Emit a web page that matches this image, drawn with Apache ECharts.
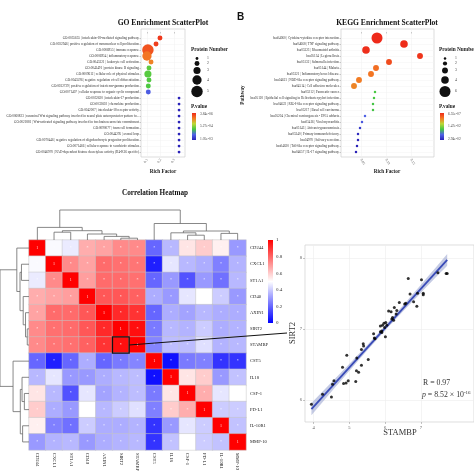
<!DOCTYPE html>
<html><head><meta charset="utf-8">
<script src="https://cdn.jsdelivr.net/npm/echarts@6/dist/echarts.min.js"></script>
<style>html,body{margin:0;padding:0;background:#fff}#c{width:474px;height:474px}</style>
</head><body><div id="c"></div>
<script>
const SERIF = '"Liberation Serif", "DejaVu Serif", serif';

// ---------- GO enrichment ----------
const goTerms = [
  'GO:0035655 | interleukin-18-mediated signaling pathway',
  'GO:0032946 | positive regulation of mononuclear cell proliferation',
  'GO:0006955 | immune response',
  'GO:0006954 | inflammatory response',
  'GO:0045321 | leukocyte cell activation',
  'GO:0043491 | protein kinase B signaling',
  'GO:0009612 | cellular role of physical stimulus',
  'GO:0045596 | negative regulation of cell differentiation',
  'GO:0032729 | positive regulation of interferon-gamma production',
  'GO:0071407 | cellular response to organic cyclic compound',
  'GO:0032620 | interleukin-17 production',
  'GO:0032602 | chemokine production',
  'GO:0042007 | interleukin-18 receptor activity',
  'GO:0060823 | canonical Wnt signaling pathway involved in neural plate anteroposterior pattern fo...',
  'GO:0021881 | Wnt-activated signaling pathway involved in forebrain neuron fate commitment',
  'GO:0090077 | foam cell formation',
  'GO:0044295 | axonal loop',
  'GO:0070446 | negative regulation of oligodendrocyte progenitor proliferation',
  'GO:0071466 | cellular response to xenobiotic stimulus',
  'GO:0046970 | NAD-dependent histone deacetylase activity (H4-K16 specific)'
];
const goRichFactor = [0.196, 0.167, 0.107, 0.100, 0.130, 0.115, 0.107, 0.115, 0.110, 0.110,
  0.337, 0.337, 0.337, 0.337, 0.337, 0.337, 0.337, 0.337, 0.337, 0.337];
const goCount = [2, 2, 5, 4, 2, 2, 3, 2, 2, 2, 1, 1, 1, 1, 1, 1, 1, 1, 1, 1];
const goPValue = [4.0e-5, 6.0e-5, 1.1e-4, 2.0e-4, 2.3e-4, 5.9e-4, 6.0e-4, 6.1e-4, 6.2e-4, 8.6e-4,
  1.05e-3, 1.05e-3, 1.05e-3, 1.05e-3, 1.05e-3, 1.05e-3, 1.05e-3, 1.05e-3, 1.05e-3, 1.05e-3];
const goTicks = [0.1, 0.2, 0.3];
const goPLabels = ['3.84e-06', '5.27e-04', '1.05e-03'];
const goPRange = [3.84e-6, 1.05e-3];
const goSizeLegend = [1, 2, 3, 4, 5];

// ---------- KEGG enrichment ----------
const keggTerms = [
  'hsa04060 | Cytokine-cytokine receptor interaction',
  'hsa04668 | TNF signaling pathway',
  'hsa05323 | Rheumatoid arthritis',
  'hsa05134 | Legionellosis',
  'hsa05132 | Salmonella infection',
  'hsa05144 | Malaria',
  'hsa05321 | Inflammatory bowel disease',
  'hsa04621 | NOD-like receptor signaling pathway',
  'hsa04514 | Cell adhesion molecules',
  'hsa05212 | Pancreatic cancer',
  'hsa05120 | Epithelial cell signaling in Helicobacter pylori infection',
  'hsa04622 | RIG-I-like receptor signaling pathway',
  'hsa05217 | Basal cell carcinoma',
  'hsa05204 | Chemical carcinogenesis - DNA adducts',
  'hsa05416 | Viral myocarditis',
  'hsa05143 | African trypanosomiasis',
  'hsa05340 | Primary immunodeficiency',
  'hsa04970 | Salivary secretion',
  'hsa04620 | Toll-like receptor signaling pathway',
  'hsa04657 | IL-17 signaling pathway'
];
const keggRichFactor = [0.082, 0.136, 0.060, 0.168, 0.106, 0.080, 0.070, 0.046, 0.036, 0.078,
  0.076, 0.074, 0.074, 0.058, 0.052, 0.048, 0.044, 0.044, 0.042, 0.040];
const keggCount = [6, 4, 4, 3, 3, 3, 3, 3, 3, 1, 1, 1, 1, 1, 1, 1, 1, 1, 1, 1];
const keggPValue = [1.0e-5, 2.0e-4, 4.0e-4, 8.0e-4, 2.5e-3, 5.0e-3, 5.5e-3, 6.0e-3, 6.5e-3, 1.75e-2,
  1.75e-2, 1.78e-2, 1.78e-2, 2.35e-2, 2.45e-2, 2.7e-2, 2.85e-2, 2.9e-2, 2.94e-2, 2.94e-2];
const keggTicks = [0.05, 0.10, 0.15];
const keggPLabels = ['6.55e-07', '1.47e-02', '2.94e-02'];
const keggPRange = [6.55e-7, 2.94e-2];
const keggSizeLegend = [1, 2, 3, 4, 6];

const pColors = ['#ee2a1a', '#f37a24', '#bcd836', '#45c742', '#4f62e6', '#2a22b8'];

// ---------- correlation heatmap ----------
const genes = ['CD244', 'CXCL1', 'ST1A1', 'CD40', 'AXIN1', 'SIRT2', 'STAMBP', 'CST5', 'IL18', 'CSF-1', 'PD-L1', 'IL-10R1', 'MMP-10'];
const corr = [
  [1.00, 0.49, 0.46, 0.66, 0.68, 0.73, 0.73, 0.20, 0.36, 0.55, 0.60, 0.53, 0.30],
  [0.49, 1.00, 0.73, 0.68, 0.79, 0.78, 0.77, 0.06, 0.45, 0.36, 0.34, 0.25, 0.35],
  [0.46, 0.73, 1.00, 0.69, 0.79, 0.79, 0.78, 0.20, 0.30, 0.16, 0.30, 0.22, 0.36],
  [0.66, 0.68, 0.69, 1.00, 0.83, 0.83, 0.81, 0.34, 0.30, 0.45, 0.50, 0.40, 0.30],
  [0.68, 0.79, 0.79, 0.83, 1.00, 0.92, 0.90, 0.20, 0.34, 0.32, 0.36, 0.34, 0.34],
  [0.73, 0.78, 0.79, 0.83, 0.92, 1.00, 0.97, 0.24, 0.36, 0.35, 0.40, 0.34, 0.35],
  [0.73, 0.77, 0.78, 0.81, 0.90, 0.97, 1.00, 0.26, 0.37, 0.37, 0.44, 0.35, 0.36],
  [0.20, 0.06, 0.20, 0.34, 0.20, 0.24, 0.26, 1.00, 0.03, 0.24, 0.25, 0.10, 0.10],
  [0.36, 0.45, 0.30, 0.30, 0.34, 0.36, 0.37, 0.03, 1.00, 0.55, 0.60, 0.30, 0.38],
  [0.55, 0.36, 0.16, 0.45, 0.32, 0.35, 0.37, 0.24, 0.55, 1.00, 0.66, 0.45, 0.50],
  [0.60, 0.34, 0.30, 0.50, 0.36, 0.40, 0.44, 0.25, 0.60, 0.66, 1.00, 0.40, 0.40],
  [0.53, 0.25, 0.22, 0.40, 0.34, 0.34, 0.35, 0.10, 0.30, 0.45, 0.40, 1.00, 0.38],
  [0.30, 0.35, 0.36, 0.30, 0.34, 0.35, 0.36, 0.10, 0.38, 0.50, 0.40, 0.38, 1.00]
];
const corrTicks = [1, 0.8, 0.6, 0.4, 0.2, 0];
// hclust-style merges: negative = leaf -(index+1), positive = earlier merge (1-based)
const dendroMerges = [
  [-6, -7, 0.06], [-5, 1, 0.12], [-4, 2, 0.20], [-2, -3, 0.26], [4, 3, 0.31], [-1, 5, 0.42],
  [-10, -11, 0.16], [-9, 7, 0.24], [-12, -13, 0.22], [8, 9, 0.30], [-8, 10, 0.55], [6, 11, 1.00]
];
const highlightCell = ['SIRT2', 'STAMBP'];

// ---------- SIRT2 vs STAMBP ----------
const stambp = [3.94, 4.25, 4.50, 4.53, 4.57, 4.81, 4.84, 4.91, 4.93, 4.97, 5.18, 5.20, 5.21, 5.26, 5.34, 5.34,
  5.39, 5.40, 5.53, 5.68, 5.70, 5.72, 5.87, 5.87, 5.91, 5.91, 5.93, 5.97, 5.99, 6.01, 6.02, 6.05, 6.10, 6.17,
  6.19, 6.21, 6.24, 6.26, 6.31, 6.33, 6.40, 6.55, 6.58, 6.65, 6.70, 6.80, 6.89, 6.91, 7.02, 7.07, 7.07, 7.48, 7.71, 7.74];
const sirt2 = [5.94, 6.08, 6.04, 6.22, 6.27, 6.46, 6.23, 6.24, 6.63, 6.27, 6.26, 6.41, 6.59, 6.39, 6.49, 6.71,
  6.79, 6.76, 6.57, 6.93, 6.87, 6.86, 6.96, 7.04, 6.97, 6.95, 7.05, 7.08, 7.02, 6.89, 7.09, 7.05, 7.25, 7.24,
  7.14, 7.16, 7.12, 7.30, 7.21, 7.26, 7.37, 7.35, 7.36, 7.71, 7.49, 7.38, 7.32, 7.50, 7.69, 7.50, 7.48, 7.79, 7.78, 7.78];
const scatterXTicks = [4, 5, 6, 7];
const scatterYTicks = [6, 7, 8];
const statR = '0.97', statP = '8.52', statPExp = '-16';

// ================= build =================
const goSize = n => 0.6 + 2.17 * n;
const keggSize = n => 0.8 + 1.7 * n;
const halfSteps = t => { const r = []; for (let v = t[0]; v <= t[t.length - 1] + 1 + 1e-9; v += 0.5) r.push(+v.toFixed(2)); return r; };
const idx20 = goTerms.map((_, i) => i + 1);

function buildDendro(merges) {
  const pos = [], ht = [];
  const P = k => k < 0 ? (-k - 1) + 0.5 : pos[k - 1];
  const H = k => k < 0 ? 0 : ht[k - 1];
  return merges.map(([a, b, h]) => {
    const pa = P(a), pb = P(b);
    const row = [pa, H(a), pb, H(b), h];
    pos.push((pa + pb) / 2); ht.push(h);
    return row;
  });
}
const dendroSegs = buildDendro(dendroMerges);

// regression + confidence band
const n = stambp.length;
const mx = stambp.reduce((a, b) => a + b, 0) / n, my = sirt2.reduce((a, b) => a + b, 0) / n;
let sxx = 0, sxy = 0;
for (let i = 0; i < n; i++) { sxx += (stambp[i] - mx) ** 2; sxy += (stambp[i] - mx) * (sirt2[i] - my); }
const slope = sxy / sxx, icpt = my - slope * mx;
let sse = 0; for (let i = 0; i < n; i++) sse += (sirt2[i] - icpt - slope * stambp[i]) ** 2;
const sres = Math.sqrt(sse / (n - 2)), tq = 2.007;
const xmin = Math.min(...stambp), xmax = Math.max(...stambp);
const band = [];
for (let k = 0; k <= 40; k++) {
  const x = xmin + (xmax - xmin) * k / 40, f = icpt + slope * x;
  const se = tq * sres * Math.sqrt(1 / n + (x - mx) ** 2 / sxx);
  band.push([x, f - se, f + se]);
}

const scatterAxisCommon = {
  axisLine: { show: false },
  axisTick: { show: true, length: 2, lineStyle: { color: '#888', width: 0.5 } },
  axisLabel: { fontSize: 4.5, color: '#555', fontFamily: SERIF, margin: 3 }
};

const chart = echarts.init(document.getElementById('c'));
const option = {
  animation: false,
  backgroundColor: '#fff',
  grid: [
    { left: 141, top: 29, width: 44, height: 128, show: true, borderColor: '#c8c8c8', borderWidth: 0.6, backgroundColor: '#fff' },
    { left: 341, top: 29, width: 93, height: 128, show: true, borderColor: '#c8c8c8', borderWidth: 0.6, backgroundColor: '#fff' },
    { left: 29, top: 240, width: 217, height: 210 },
    { left: 29, top: 210, width: 217, height: 30 },
    { left: -3, top: 240, width: 32, height: 210 },
    { left: 305, top: 245, width: 200, height: 177, show: true, borderColor: '#d0d0d0', borderWidth: 0.7, backgroundColor: '#fff' }
  ],
  xAxis: [
    { gridIndex: 0, type: 'value', min: 0.056, max: 0.381,
      axisLine: { show: false },
      axisTick: { show: true, length: 1.5, customValues: goTicks, lineStyle: { color: '#999', width: 0.5 } },
      axisLabel: { customValues: goTicks, rotate: 60, fontSize: 3.5, color: '#555', fontFamily: SERIF, margin: 2, formatter: v => v.toFixed(1) },
      splitLine: { show: true, customValues: goTicks, lineStyle: { color: '#f0f0f0', width: 0.5 } } },
    { gridIndex: 1, type: 'value', min: 0.01, max: 0.196,
      axisLine: { show: false },
      axisTick: { show: true, length: 1.5, customValues: keggTicks, lineStyle: { color: '#999', width: 0.5 } },
      axisLabel: { customValues: keggTicks, rotate: -60, fontSize: 3.5, color: '#555', fontFamily: SERIF, margin: 2, formatter: v => v.toFixed(2) },
      splitLine: { show: true, customValues: keggTicks, lineStyle: { color: '#f0f0f0', width: 0.5 } } },
    { gridIndex: 2, type: 'category', data: genes, position: 'bottom',
      axisLine: { show: false }, axisTick: { show: false },
      axisLabel: { rotate: -90, fontSize: 4.6, color: '#222', fontFamily: SERIF, margin: 3, interval: 0 },
      splitLine: { show: false } },
    { gridIndex: 3, type: 'value', min: 0, max: genes.length, show: false },
    { gridIndex: 4, type: 'value', min: 0, max: 1.0, inverse: true, show: false },
    Object.assign({ gridIndex: 5, type: 'value', min: 3.76, max: 8.49 }, scatterAxisCommon, {
      axisTick: Object.assign({}, scatterAxisCommon.axisTick, { customValues: scatterXTicks }),
      axisLabel: Object.assign({}, scatterAxisCommon.axisLabel, { customValues: scatterXTicks }),
      splitLine: { show: true, customValues: halfSteps(scatterXTicks), lineStyle: { color: '#ececec', width: 0.6 } } })
  ],
  yAxis: [
    { gridIndex: 0, type: 'value', min: -0.5, max: 20.83, inverse: true,
      axisLine: { show: false },
      axisTick: { show: true, length: 1.5, customValues: idx20, lineStyle: { color: '#999', width: 0.5 } },
      axisLabel: { customValues: idx20, fontSize: 3.3, color: '#333', fontFamily: SERIF, margin: 2, formatter: v => goTerms[Math.round(v) - 1] || '' },
      splitLine: { show: true, customValues: idx20, lineStyle: { color: '#f2f2f2', width: 0.5 } } },
    { gridIndex: 1, type: 'value', min: -0.5, max: 20.83, inverse: true,
      axisLine: { show: false },
      axisTick: { show: true, length: 1.5, customValues: idx20, lineStyle: { color: '#999', width: 0.5 } },
      axisLabel: { customValues: idx20, fontSize: 3.3, color: '#333', fontFamily: SERIF, margin: 2, formatter: v => keggTerms[Math.round(v) - 1] || '' },
      splitLine: { show: true, customValues: idx20, lineStyle: { color: '#f2f2f2', width: 0.5 } } },
    { gridIndex: 2, type: 'category', data: genes, inverse: true, position: 'right',
      axisLine: { show: false }, axisTick: { show: false },
      axisLabel: { fontSize: 4.6, color: '#222', fontFamily: SERIF, margin: 4, interval: 0 },
      splitLine: { show: false } },
    { gridIndex: 3, type: 'value', min: 0, max: 1.0, show: false },
    { gridIndex: 4, type: 'value', min: 0, max: genes.length, inverse: true, show: false },
    Object.assign({ gridIndex: 5, type: 'value', min: 5.69, max: 8.18 }, scatterAxisCommon, {
      axisTick: Object.assign({}, scatterAxisCommon.axisTick, { customValues: scatterYTicks }),
      axisLabel: Object.assign({}, scatterAxisCommon.axisLabel, { customValues: scatterYTicks }),
      splitLine: { show: true, customValues: halfSteps(scatterYTicks), lineStyle: { color: '#ececec', width: 0.6 } } })
  ],
  visualMap: [
    { type: 'continuous', show: false, seriesIndex: 0, dimension: 3, min: goPRange[0], max: goPRange[1], inRange: { color: pColors } },
    { type: 'continuous', show: false, seriesIndex: 1, dimension: 3, min: keggPRange[0], max: keggPRange[1], inRange: { color: pColors } },
    { type: 'continuous', show: false, seriesIndex: 2, dimension: 2, min: 0, max: 1, inRange: { color: ['#0000ff', '#ffffff', '#ff0000'] } }
  ],
  series: [
    { type: 'scatter', xAxisIndex: 0, yAxisIndex: 0,
      data: goTerms.map((t, i) => [goRichFactor[i], i + 1, goCount[i], goPValue[i]]),
      symbolSize: d => goSize(d[2]), itemStyle: { opacity: 1 } },
    { type: 'scatter', xAxisIndex: 1, yAxisIndex: 1,
      data: keggTerms.map((t, i) => [keggRichFactor[i], i + 1, keggCount[i], keggPValue[i]]),
      symbolSize: d => keggSize(d[2]), itemStyle: { opacity: 1 } },
    { type: 'heatmap', xAxisIndex: 2, yAxisIndex: 2,
      data: corr.flatMap((row, r) => row.map((v, c) => [c, r, v])),
      itemStyle: { borderColor: '#c4c4c4', borderWidth: 0.5 },
      label: { show: true, fontSize: 4, color: 'rgba(255,255,255,0.85)', fontFamily: SERIF,
        formatter: p => p.data[0] === p.data[1] ? '1' : '*' } },
    { type: 'custom', xAxisIndex: 3, yAxisIndex: 3, data: dendroSegs, clip: false,
      renderItem: (params, api) => {
        const pts = [[api.value(0), api.value(1)], [api.value(0), api.value(4)], [api.value(2), api.value(4)], [api.value(2), api.value(3)]].map(p => api.coord(p));
        return { type: 'polyline', shape: { points: pts }, style: { stroke: '#6a6a6a', lineWidth: 0.8, fill: null } };
      } },
    { type: 'custom', xAxisIndex: 4, yAxisIndex: 4, data: dendroSegs, clip: false,
      renderItem: (params, api) => {
        const pts = [[api.value(1), api.value(0)], [api.value(4), api.value(0)], [api.value(4), api.value(2)], [api.value(3), api.value(2)]].map(p => api.coord(p));
        return { type: 'polyline', shape: { points: pts }, style: { stroke: '#6a6a6a', lineWidth: 0.8, fill: null } };
      } },
    { type: 'custom', xAxisIndex: 5, yAxisIndex: 5, data: [[band[0][0], band[0][1]]], clip: true, z: 1,
      renderItem: (params, api) => {
        const up = band.map(b => api.coord([b[0], b[2]]));
        const lo = band.map(b => api.coord([b[0], b[1]])).reverse();
        return { type: 'polygon', shape: { points: up.concat(lo) }, style: { fill: 'rgba(150,160,205,0.55)', stroke: null } };
      } },
    { type: 'line', xAxisIndex: 5, yAxisIndex: 5, z: 2, symbol: 'none',
      data: [[xmin, icpt + slope * xmin], [xmax, icpt + slope * xmax]],
      lineStyle: { color: '#3a4cb8', width: 1.8 } },
    { type: 'scatter', xAxisIndex: 5, yAxisIndex: 5, z: 3, symbolSize: 3,
      data: stambp.map((x, i) => [x, sirt2[i]]), itemStyle: { color: '#000' } }
  ]
};
chart.setOption(option);

// ---------- annotations / legends ----------
const txt = (x, y, text, o = {}) => ({ type: 'text', x, y, rotation: o.rot || 0, z: 100,
  style: { text, fontSize: o.fs || 5, fontFamily: o.ff || SERIF, fontWeight: o.fw || 'normal', fill: o.fill || '#222',
    textAlign: o.align || 'left', textVerticalAlign: o.va || 'middle', rich: o.rich } });
const grad = (stops) => ({ type: 'linear', x: 0, y: 0, x2: 0, y2: 1, colorStops: stops.map((c, i) => ({ offset: i / (stops.length - 1), color: c })) });

const g = [];
g.push(txt(237, 17, 'B', { fs: 10, fw: 'bold', ff: '"Liberation Sans", Arial, sans-serif', fill: '#111' }));
g.push(txt(163, 23, 'GO Enrichment ScatterPlot', { fs: 7.6, fw: 'bold', align: 'center', fill: '#111' }));
g.push(txt(387, 23, 'KEGG Enrichment ScatterPlot', { fs: 7.6, fw: 'bold', align: 'center', fill: '#111' }));
g.push(txt(163, 172, 'Rich Factor', { fs: 5.2, fw: 'bold', align: 'center' }));
g.push(txt(387, 172, 'Rich Factor', { fs: 5.2, fw: 'bold', align: 'center' }));
g.push(txt(243, 95, 'Pathway', { fs: 5.2, fw: 'bold', align: 'center', rot: Math.PI / 2 }));

function enrichLegend(x0, sizes, sizeFn, pLabels) {
  g.push(txt(x0, 50, 'Protein Number', { fs: 5.3, fw: 'bold' }));
  const ys = [58.5, 63.5, 70.5, 80, 91.5];
  sizes.forEach((s, i) => {
    g.push({ type: 'circle', z: 100, shape: { cx: x0 + 6, cy: ys[i], r: sizeFn(s) / 2 }, style: { fill: '#111' } });
    g.push(txt(x0 + 16, ys[i], String(s), { fs: 3.8, fill: '#444' }));
  });
  g.push(txt(x0, 107, 'P.value', { fs: 5.3, fw: 'bold' }));
  g.push({ type: 'rect', z: 100, shape: { x: x0 + 1, y: 113, width: 4, height: 27 }, style: { fill: grad(pColors) } });
  [114, 126.5, 139.5].forEach((y, i) => g.push(txt(x0 + 9, y, pLabels[i], { fs: 3.6, fill: '#444' })));
}
enrichLegend(191, goSizeLegend, goSize, goPLabels);
enrichLegend(439, keggSizeLegend, keggSize, keggPLabels);

g.push(txt(155, 193, 'Correlation Heatmap', { fs: 7.2, fw: 'bold', align: 'center', fill: '#111' }));
g.push({ type: 'rect', z: 100, shape: { x: 268, y: 240, width: 5, height: 83 }, style: { fill: grad(['#ff0000', '#ffffff', '#0000ff']) } });
corrTicks.forEach(v => g.push(txt(276, 240 + (1 - v) * 83, String(v), { fs: 5, fill: '#333' })));

// highlighted cell + connector
const c0 = chart.convertToPixel({ xAxisIndex: 2, yAxisIndex: 2 }, [genes.indexOf(highlightCell[0]), genes.indexOf(highlightCell[1])]);
const c1 = chart.convertToPixel({ xAxisIndex: 2, yAxisIndex: 2 }, [genes.indexOf(highlightCell[0]) + 1, genes.indexOf(highlightCell[1]) + 1]);
const cw = Math.abs(c1[0] - c0[0]), ch = Math.abs(c1[1] - c0[1]);
g.push({ type: 'rect', z: 100, shape: { x: c0[0] - cw / 2, y: c0[1] - ch / 2, width: cw, height: ch }, style: { fill: null, stroke: '#111', lineWidth: 1.3 } });
g.push({ type: 'line', z: 100, shape: { x1: c0[0] + cw / 2, y1: c0[1], x2: 287, y2: 333 }, style: { stroke: '#111', lineWidth: 1 } });

g.push(txt(400, 433, 'STAMBP', { fs: 8.5, align: 'center', fill: '#333' }));
g.push(txt(293, 333, 'SIRT2', { fs: 8.5, align: 'center', rot: Math.PI / 2, fill: '#333' }));
g.push(txt(423, 383, 'R = ' + statR, { fs: 7.8, fill: '#333' }));
g.push(txt(422, 395, '{i|p} = ' + statP + ' × 10{s|' + statPExp + '}', { fs: 7.8, fill: '#333',
  rich: { i: { fontStyle: 'italic', fontSize: 7.8, fontFamily: SERIF, fill: '#333' }, s: { fontSize: 5, fontFamily: SERIF, verticalAlign: 'top', padding: [0, 0, 4, 0], fill: '#333' } } }));

chart.setOption({ graphic: g });
</script></body></html>
